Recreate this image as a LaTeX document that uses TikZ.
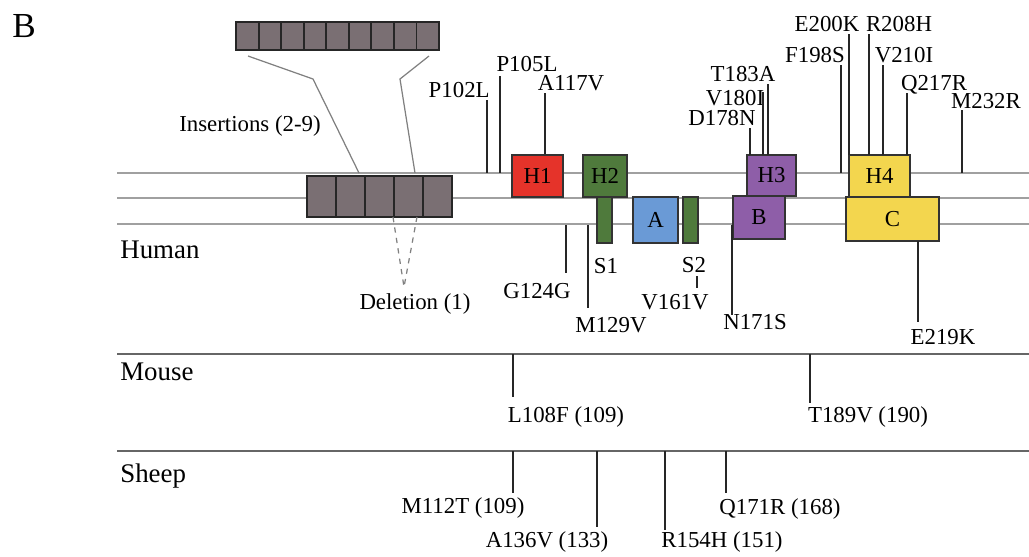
\documentclass[tikz,border=0pt]{standalone}
\usepackage{fontspec}
\setmainfont{Liberation Serif}
\usepackage{tikz}
\usetikzlibrary{positioning}
\definecolor{helixred}{HTML}{E5332A}
\definecolor{strandgreen}{HTML}{4F7A3C}
\definecolor{sheetblue}{HTML}{6A9AD6}
\definecolor{domainpurple}{HTML}{8E5EA8}
\definecolor{domainyellow}{HTML}{F3D64E}
\definecolor{repeatgray}{HTML}{7A6F73}
\definecolor{trackgray}{HTML}{A0A0A0}
\tikzstyle{domainbox} = [draw=black!80, line width=1.1pt, inner sep=0pt, font=\fontsize{13}{15}\selectfont]
\tikzstyle{mut} = [inner sep=0pt, anchor=base, font=\fontsize{13}{15}\selectfont]
\tikzstyle{mutline} = [line width=0.85pt, draw=black!85]
\tikzstyle{species} = [anchor=base west, inner sep=0pt, font=\fontsize{15.3}{18}\selectfont]
\tikzstyle{repeatbox} = [fill=repeatgray, draw=black!85, line width=1.1pt]

\begin{document}
\begin{tikzpicture}[x=0.02cm, y=-0.02cm]
        \useasboundingbox (0,0) rectangle (1029,556);

        % Panel letter
        \node[anchor=base west, inner sep=0pt, font=\fontsize{20}{24}\selectfont] (panel) at (12,37) {B};

        % Human track (three lines)
        \draw[trackgray, line width=0.8pt] (117,173) -- (1029,173);
        \draw[trackgray, line width=0.8pt] (117,198) -- (1029,198);
        \draw[trackgray, line width=0.8pt] (117,224) -- (1029,224);
        \node[species] (human) at (120,258) {Human};

        % Mouse and sheep tracks
        \draw[black!60, line width=1pt] (117,354) -- (1029,354);
        \node[species] (mouse) at (120,380) {Mouse};
        \draw[black!60, line width=1pt] (117,451) -- (1029,451);
        \node[species] (sheep) at (120,482) {Sheep};

        % Octarepeats: insertion (top) and the normal region on the track
        \draw[gray, line width=0.7pt] (248,56) -- (313,79) -- (359,173);
        \draw[gray, line width=0.7pt] (429,56) -- (400,79) -- (415,173);
        \foreach \i in {0,...,8}
            \draw[repeatbox] ({236+\i*22.56},22) rectangle ++(22.56,28);
        \foreach \i in {0,...,4}
            \draw[repeatbox] ({307+\i*29},176) rectangle ++(29,41);
        \coordinate (delpt) at (404,287);
        \draw[gray, dashed, line width=0.7pt] (393,217) -- (delpt) -- (417,217);
        \node[mut] (ins) at (250,131) {Insertions (2-9)};
        \node[mut] (del) at (415,309) {Deletion (1)};

        % Secondary structure domains
        \node[domainbox, fill=helixred, minimum width=1.02cm, minimum height=0.84cm] (h1) at (537.5,176) {H1};
        \node[domainbox, fill=strandgreen, minimum width=0.88cm, minimum height=0.84cm] (h2) at (605,176) {H2};
        \node[domainbox, fill=strandgreen, minimum width=0.3cm, minimum height=0.92cm] (s1) at (604.5,220) {};
        \node[domainbox, fill=sheetblue, minimum width=0.9cm, minimum height=0.92cm] (a) at (655.5,220) {A};
        \node[domainbox, fill=strandgreen, minimum width=0.3cm, minimum height=0.92cm] (s2) at (690.5,220) {};
        \node[domainbox, fill=domainpurple, minimum width=0.98cm, minimum height=0.82cm] (h3) at (771.5,175.5) {H3};
        \node[domainbox, fill=domainpurple, minimum width=1.04cm, minimum height=0.86cm] (b) at (759,217.5) {B};
        \node[domainbox, fill=domainyellow, minimum width=1.22cm, minimum height=0.84cm] (h4) at (879.5,176) {H4};
        \node[domainbox, fill=domainyellow, minimum width=1.86cm, minimum height=0.88cm] (c) at (892.5,219) {C};
        \node[mut] (s1lbl) at (606,273) {S1};
        \node[mut] (s2lbl) at (694,272) {S2};

        % Human mutations above the track
        \node[mut, anchor=base east] (p102l) at (490,97) {P102L};
        \draw[mutline] (487,100) -- (487,173);
        \node[mut] (p105l) at (527,71) {P105L};
        \draw[mutline] (500,76) -- (500,173);
        \node[mut] (a117v) at (571,90) {A117V};
        \draw[mutline] (545,93) -- (h1.north -| 545,0);
        \node[mut] (d178n) at (722,125) {D178N};
        \draw[mutline] (750,128) -- (750,155);
        \node[mut] (v180i) at (735,105) {V180I};
        \draw[mutline] (763,92) -- (763,155);
        \node[mut] (t183a) at (743,81) {T183A};
        \draw[mutline] (768,84) -- (768,155);
        \node[mut] (f198s) at (815,62) {F198S};
        \draw[mutline] (841,65) -- (841,173);
        \node[mut] (e200k) at (827,31) {E200K};
        \draw[mutline] (849,34) -- (849,155);
        \node[mut] (r208h) at (899,31) {R208H};
        \draw[mutline] (869,34) -- (869,155);
        \node[mut] (v210i) at (904,62) {V210I};
        \draw[mutline] (883,65) -- (883,155);
        \node[mut] (q217r) at (934,90) {Q217R};
        \draw[mutline] (907,93) -- (907,155);
        \node[mut] (m232r) at (986,108) {M232R};
        \draw[mutline] (962,110) -- (962,173);

        % Human mutations below the track
        \node[mut] (g124g) at (537,298) {G124G};
        \draw[mutline] (566,225) -- (566,273);
        \node[mut] (m129v) at (611,332) {M129V};
        \draw[mutline] (588,225) -- (588,308);
        \node[mut] (v161v) at (675,309) {V161V};
        \draw[mutline] (697,276) -- (697,288);
        \node[mut] (n171s) at (755,329) {N171S};
        \draw[mutline] (732,225) -- (732,315);
        \node[mut] (e219k) at (943,344) {E219K};
        \draw[mutline] (918,241) -- (918,322);

        % Mouse polymorphisms
        \node[mut] (l108f) at (566,422) {L108F (109)};
        \draw[mutline] (513,354) -- (513,397);
        \node[mut] (t189v) at (868,422) {T189V (190)};
        \draw[mutline] (810,354) -- (810,403);

        % Sheep polymorphisms
        \node[mut] (m112t) at (463,513) {M112T (109)};
        \draw[mutline] (513,451) -- (513,493);
        \node[mut] (a136v) at (547,547) {A136V (133)};
        \draw[mutline] (597,451) -- (597,527);
        \node[mut] (r154h) at (722,547) {R154H (151)};
        \draw[mutline] (665,451) -- (665,530);
        \node[mut] (q171r) at (780,514) {Q171R (168)};
        \draw[mutline] (726,451) -- (726,493);

    \end{tikzpicture}
\end{document}
